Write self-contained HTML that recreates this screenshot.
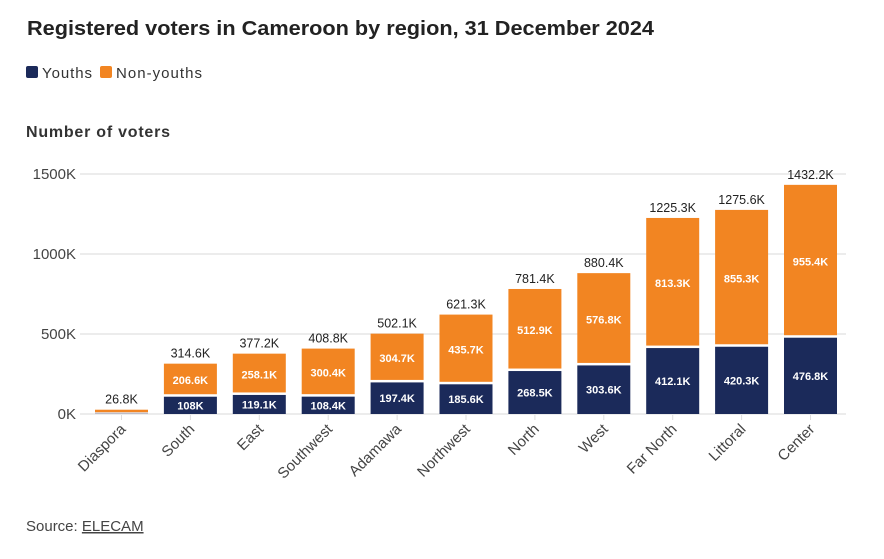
<!DOCTYPE html>
<html><head><meta charset="utf-8"><style>
body{margin:0;background:#fff;font-family:"Liberation Sans",sans-serif;}
</style></head><body>
<svg width="884" height="554" xmlns="http://www.w3.org/2000/svg" font-family="Liberation Sans, sans-serif">
<text x="27" y="35" font-size="20" font-weight="bold" fill="#222" textLength="627" lengthAdjust="spacingAndGlyphs">Registered voters in Cameroon by region, 31 December 2024</text>
<rect x="26" y="66" width="12" height="12" rx="2" fill="#1b2a5a"/>
<text x="42" y="78" font-size="15" fill="#333" textLength="50">Youths</text>
<rect x="100" y="66" width="12" height="12" rx="2" fill="#f28522"/>
<text x="116" y="78" font-size="15" fill="#333" textLength="86">Non-youths</text>
<text x="26" y="137" font-size="16" font-weight="bold" fill="#333" textLength="144">Number of voters</text>
<g stroke="#ececec" stroke-width="2">
<line x1="80" y1="174" x2="846" y2="174"/><line x1="80" y1="254" x2="846" y2="254"/>
<line x1="80" y1="334" x2="846" y2="334"/><line x1="80" y1="414" x2="846" y2="414"/>
</g>
<g font-size="15" fill="#444" text-anchor="end">
<text x="76" y="179">1500K</text><text x="76" y="259">1000K</text><text x="76" y="339">500K</text><text x="76" y="419">0K</text>
</g>
<g id="bars"></g>
<text x="26" y="531" font-size="15" fill="#444">Source: <tspan text-decoration="underline">ELECAM</tspan></text>
</svg>
<script>
var d=[["Diaspora",0,26.8,26.8],["South",108,206.6,314.6],["East",119.1,258.1,377.2],["Southwest",108.4,300.4,408.8],["Adamawa",197.4,304.7,502.1],["Northwest",185.6,435.7,621.3],["North",268.5,512.9,781.4],["West",303.6,576.8,880.4],["Far North",412.1,813.3,1225.3],["Littoral",420.3,855.3,1275.6],["Center",476.8,955.4,1432.2]];
var g=document.getElementById('bars'),s='';
d.forEach(function(r,i){var x=95+i*68.9,w=53,c=x+w/2,k=0.16;
var yy=414-r[1]*k,yt=414-r[3]*k;
if(i==0){s+='<rect x="'+x+'" y="'+(yt)+'" width="'+w+'" height="2.5" fill="#f28522"/><rect x="'+x+'" y="'+(yt+3)+'" width="'+w+'" height="1" fill="#aab"/>';}
else{
s+='<rect x="'+x+'" y="'+yy+'" width="'+w+'" height="'+(r[1]*k)+'" fill="#1b2a5a"/>';
s+='<rect x="'+x+'" y="'+yt+'" width="'+w+'" height="'+(r[2]*k-2.5)+'" fill="#f28522"/>';
s+='<text x="'+c+'" y="'+((yy+414)/2+4)+'" font-size="11" font-weight="bold" fill="#fff" text-anchor="middle">'+r[1]+'K</text>';
s+='<text x="'+c+'" y="'+((yt+yy)/2+4)+'" font-size="11" font-weight="bold" fill="#fff" text-anchor="middle">'+r[2]+'K</text>';}
s+='<text x="'+c+'" y="'+(yt-6)+'" font-size="12.5" fill="#222" text-anchor="middle">'+r[3]+'K</text>';
s+='<line x1="'+c+'" y1="415" x2="'+c+'" y2="420" stroke="#ddd"/>';
s+='<text transform="translate('+(c+5)+',430) rotate(-45)" font-size="15" fill="#444" text-anchor="end">'+r[0]+'</text>';
});
g.innerHTML=s;
</script>
</body></html>
